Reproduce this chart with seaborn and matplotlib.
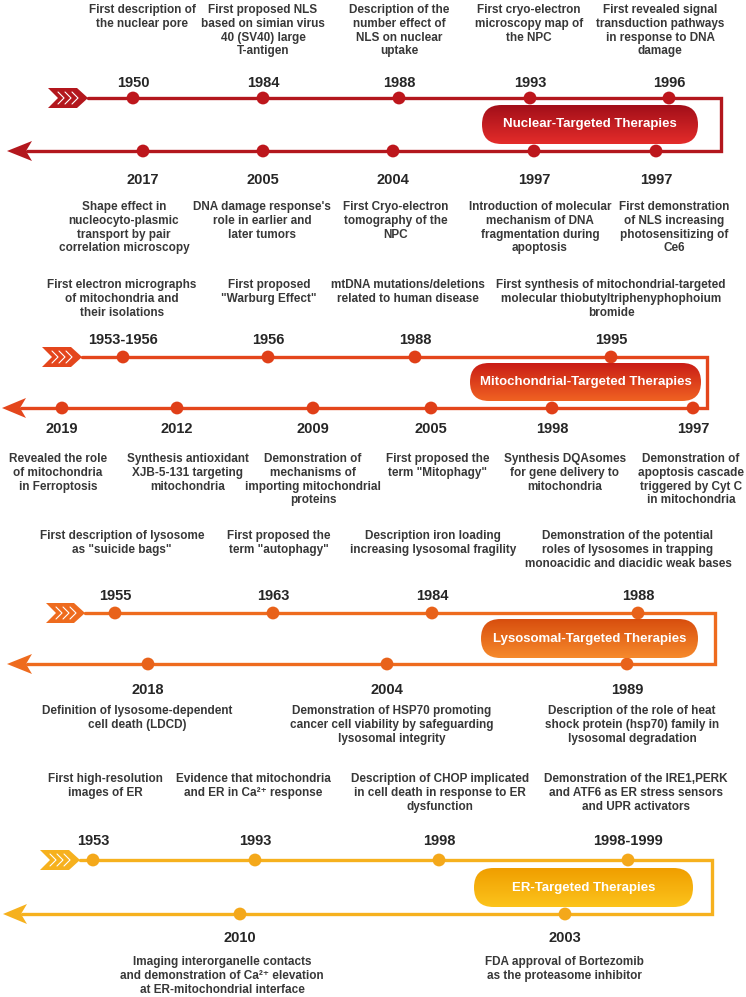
import numpy as np
import seaborn as sns
import matplotlib.pyplot as plt
from matplotlib.patches import FancyBboxPatch, Polygon
from matplotlib.colors import LinearSegmentedColormap

sns.set_theme(style="white")
plt.rcParams['font.family'] = ['Liberation Sans', 'DejaVu Sans']

# ---------------- data ----------------
nuc_top_years = ["1950", "1984", "1988", "1993", "1996"]
nuc_top_text = [
    "First description of\nthe nuclear pore",
    "First proposed NLS\nbased on simian virus\n40 (SV40) large\nT-antigen",
    "Description of the\nnumber effect of\nNLS on nuclear\nuptake",
    "First cryo-electron\nmicroscopy map of\nthe NPC",
    "First revealed signal\ntransduction pathways\nin response to DNA\ndamage",
]
nuc_bot_years = ["2017", "2005", "2004", "1997", "1997"]
nuc_bot_text = [
    "Shape effect in\nnucleocyto-plasmic\ntransport by pair\ncorrelation microscopy",
    "DNA damage response's\nrole in earlier and\nlater tumors",
    "First Cryo-electron\ntomography of the\nNPC",
    "Introduction of molecular\nmechanism of DNA\nfragmentation during\napoptosis",
    "First demonstration\nof NLS increasing\nphotosensitizing of\nCe6",
]

mito_top_years = ["1953-1956", "1956", "1988", "1995"]
mito_top_text = [
    "First electron micrographs\nof mitochondria and\ntheir isolations",
    "First proposed\n\"Warburg Effect\"",
    "mtDNA mutations/deletions\nrelated to human disease",
    "First synthesis of mitochondrial-targeted\nmolecular thiobutyltriphenyphophoium\nbromide",
]
mito_bot_years = ["2019", "2012", "2009", "2005", "1998", "1997"]
mito_bot_text = [
    "Revealed the role\nof mitochondria\nin Ferroptosis",
    "Synthesis antioxidant\nXJB-5-131 targeting\nmitochondria",
    "Demonstration of\nmechanisms of\nimporting mitochondrial\nproteins",
    "First proposed the\nterm \"Mitophagy\"",
    "Synthesis DQAsomes\nfor gene delivery to\nmitochondria",
    "Demonstration of\napoptosis cascade\ntriggered by Cyt C\nin mitochondria",
]

lyso_top_years = ["1955", "1963", "1984", "1988"]
lyso_top_text = [
    "First description of lysosome\nas \"suicide bags\"",
    "First proposed the\nterm \"autophagy\"",
    "Description iron loading\nincreasing lysosomal fragility",
    "Demonstration of the potential\nroles of lysosomes in trapping\nmonoacidic and diacidic weak bases",
]
lyso_bot_years = ["2018", "2004", "1989"]
lyso_bot_text = [
    "Definition of lysosome-dependent\ncell death (LDCD)",
    "Demonstration of HSP70 promoting\ncancer cell viability by safeguarding\nlysosomal integrity",
    "Description of the role of heat\nshock protein (hsp70) family in\nlysosomal degradation",
]

er_top_years = ["1953", "1993", "1998", "1998-1999"]
er_top_text = [
    "First high-resolution\nimages of ER",
    "Evidence that mitochondria\nand ER in Ca²⁺ response",
    "Description of CHOP implicated\nin cell death in response to ER\ndysfunction",
    "Demonstration of the IRE1,PERK\nand ATF6 as ER stress sensors\nand UPR activators",
]
er_bot_years = ["2010", "2003"]
er_bot_text = [
    "Imaging interorganelle contacts\nand demonstration of Ca²⁺ elevation\nat ER-mitochondrial interface",
    "FDA approval of Bortezomib\nas the proteasome inhibitor",
]

titles = ["Nuclear-Targeted Therapies", "Mitochondrial-Targeted Therapies",
          "Lysosomal-Targeted Therapies", "ER-Targeted Therapies"]

# ---------------- layout (pixel coords) ----------------
panels = [
    dict(top_years=nuc_top_years, top_text=nuc_top_text, bot_years=nuc_bot_years, bot_text=nuc_bot_text,
         top_x=[133, 263, 399, 530, 669], top_tx=[142, 263, 399, 529, 660],
         bot_x=[143, 263, 393, 534, 656], bot_tx=[124, 262, 396, 540, 674],
         y_top=98, y_bot=151, tail=(48, 88), head=(7, 32), x_right=721,
         pill=(482, 105, 216, 39), ty_top=4, yr_top=87, yr_bot=184, ty_bot=201,
         line="#b3171d", dot="#bd161c", grad=("#a20f19", "#e42c2a")),
    dict(top_years=mito_top_years, top_text=mito_top_text, bot_years=mito_bot_years, bot_text=mito_bot_text,
         top_x=[123, 268, 415, 611], top_tx=[122, 269, 408, 611],
         bot_x=[62, 177, 313, 431, 552, 693], bot_tx=[58, 188, 313, 438, 565, 691],
         y_top=357, y_bot=408, tail=(42, 82), head=(2, 26), x_right=707,
         pill=(470, 363, 231, 38), ty_top=279, yr_top=344, yr_bot=433, ty_bot=453,
         line="#e4461c", dot="#e03f18", grad=("#c91d16", "#f06222")),
    dict(top_years=lyso_top_years, top_text=lyso_top_text, bot_years=lyso_bot_years, bot_text=lyso_bot_text,
         top_x=[115, 273, 432, 638], top_tx=[122, 279, 433, 628],
         bot_x=[148, 387, 627], bot_tx=[137, 392, 632],
         y_top=613, y_bot=664, tail=(46, 85), head=(7, 32), x_right=715,
         pill=(481, 619, 217, 39), ty_top=530, yr_top=600, yr_bot=694, ty_bot=705,
         line="#ee6b1e", dot="#e8621a", grad=("#d84e0e", "#f68a2c")),
    dict(top_years=er_top_years, top_text=er_top_text, bot_years=er_bot_years, bot_text=er_bot_text,
         top_x=[93, 255, 439, 628], top_tx=[105, 253, 440, 636],
         bot_x=[240, 565], bot_tx=[222, 564],
         y_top=860, y_bot=914, tail=(40, 80), head=(3, 27), x_right=712,
         pill=(474, 868, 219, 39), ty_top=773, yr_top=845, yr_bot=942, ty_bot=956,
         line="#f6b11e", dot="#f4a81a", grad=("#f09e00", "#fcc41c")),
]

fig = plt.figure(figsize=(7.46, 9.97), dpi=100)
ax = fig.add_axes([0, 0, 1, 1])

desc_kw = dict(ha="center", va="top", fontsize=8.5, fontweight="bold", color="#383838", linespacing=1.2)
year_kw = dict(ha="center", va="baseline", fontsize=10.5, fontweight="bold", color="#262626")

for p, title in zip(panels, titles):
    yt, yb = p["y_top"], p["y_bot"]
    t0, t1 = p["tail"]
    h0, h1 = p["head"]
    c = p["line"]

    # main track: top line -> right edge -> bottom line
    ax.plot([t1, p["x_right"], p["x_right"], h1 - 5], [yt, yt, yb, yb], color=c, lw=2.4,
            solid_joinstyle="miter", zorder=2)

    # fletching tail
    tail = Polygon([(t0, yt - 10), (t1 - 11, yt - 10), (t1, yt), (t1 - 11, yt + 10),
                    (t0, yt + 10), (t0 + 10, yt)], closed=True, fc=c, ec="none", zorder=3)
    ax.add_patch(tail)
    for off in [10, 17, 24]:
        ax.plot([t0 + off, t0 + off + 6, t0 + off], [yt - 6, yt, yt + 6], color="white", lw=0.8, zorder=4)

    # arrow head
    head = Polygon([(h0, yb), (h1, yb - 10), (h1 - 6, yb), (h1, yb + 10)], closed=True,
                   fc=c, ec="none", zorder=3)
    ax.add_patch(head)

    # dots
    sns.scatterplot(x=p["top_x"], y=[yt] * len(p["top_x"]), ax=ax, s=85, color=p["dot"],
                    edgecolor="none", zorder=5, legend=False)
    sns.scatterplot(x=p["bot_x"], y=[yb] * len(p["bot_x"]), ax=ax, s=85, color=p["dot"],
                    edgecolor="none", zorder=5, legend=False)

    # years and descriptions
    for x, tx, yr, txt in zip(p["top_x"], p["top_tx"], p["top_years"], p["top_text"]):
        ax.text(x, p["yr_top"], yr, **year_kw)
        ax.text(tx, p["ty_top"], txt, **desc_kw)
    for x, tx, yr, txt in zip(p["bot_x"], p["bot_tx"], p["bot_years"], p["bot_text"]):
        ax.text(x, p["yr_bot"], yr, **year_kw)
        ax.text(tx, p["ty_bot"], txt, **desc_kw)

    # gradient pill
    px, py, pw, ph = p["pill"]
    pill = FancyBboxPatch((px, py), pw, ph, boxstyle=f"round,pad=0,rounding_size={ph / 2}",
                          fc="none", ec="none", zorder=6)
    ax.add_patch(pill)
    grad = np.linspace(0, 1, 100).reshape(-1, 1)
    cmap = LinearSegmentedColormap.from_list("pill", list(p["grad"]))
    im = ax.imshow(grad, cmap=cmap, extent=(px, px + pw, py + ph, py), origin="upper",
                   aspect="auto", zorder=6)
    im.set_clip_path(pill)
    ax.text(px + pw / 2, py + ph / 2, title, ha="center", va="center", fontsize=9.5,
            fontweight="bold", color="white", zorder=7)

ax.set_xlim(0, 746)
ax.set_ylim(997, 0)
ax.axis("off")

fig.savefig("out.png", dpi=100)
